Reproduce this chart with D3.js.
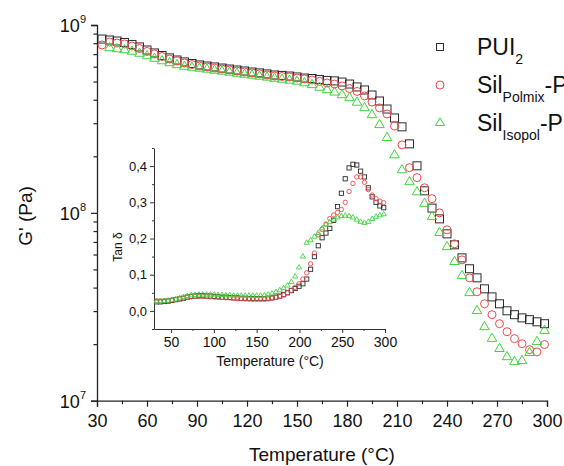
<!DOCTYPE html>
<html><head><meta charset="utf-8">
<script src="https://cdn.jsdelivr.net/npm/d3@7"></script>
<style>
body{margin:0;background:#fff;overflow:hidden}
svg{display:block;font-family:"Liberation Sans",Arial,Helvetica,sans-serif}
</style>
</head><body>
<svg id="chart" width="564" height="466"></svg>
<script>
// ---------- data ----------
const temperature = [33,37.5,42,46.5,51,55.5,60,64.5,69,73.5,78,82.5,87,91.5,96,100.5,105,109.5,114,118.5,
  123,127.5,132,136.5,141,145.5,150,154.5,159,163.5,168,172.5,177,181.5,186,190.5,195,199.5,204,208.5,
  213,217.5,222,226.5,231,235.5,240,244.5,249,253.5,258,262.5,267,271.5,276,280.5,285,289.5,294,298.5];

const gPUI2 = [8.42e8,8.32e8,8.22e8,8.07e8,7.88e8,7.64e8,7.36e8,7.10e8,6.88e8,6.68e8,6.51e8,6.36e8,6.24e8,6.13e8,6.05e8,
  5.98e8,5.90e8,5.83e8,5.76e8,5.69e8,5.62e8,5.56e8,5.49e8,5.42e8,5.39e8,5.35e8,5.29e8,5.22e8,5.19e8,5.13e8,
  5.07e8,5.04e8,4.97e8,4.85e8,4.68e8,4.51e8,4.24e8,3.94e8,3.57e8,3.20e8,2.87e8,2.33e8,1.78e8,1.31e8,1.06e8,
  9.29e7,7.73e7,6.76e7,5.76e7,5.04e7,4.51e7,3.94e7,3.57e7,3.28e7,3.01e7,2.87e7,2.76e7,2.70e7,2.63e7,2.57e7];

const gPolmix = [7.83e8,8.12e8,8.02e8,7.93e8,7.73e8,7.50e8,7.23e8,7.01e8,6.80e8,6.59e8,6.43e8,6.28e8,6.16e8,6.05e8,5.98e8,
  5.90e8,5.83e8,5.76e8,5.69e8,5.62e8,5.56e8,5.49e8,5.42e8,5.35e8,5.32e8,5.29e8,5.22e8,5.16e8,5.10e8,5.01e8,
  4.91e8,4.85e8,4.74e8,4.59e8,4.43e8,4.19e8,3.89e8,3.62e8,3.36e8,2.90e8,2.30e8,1.74e8,1.54e8,1.36e8,1.19e8,
  1.00e8,8.12e7,6.84e7,5.62e7,4.51e7,3.80e7,3.28e7,2.87e7,2.57e7,2.33e7,2.14e7,2.01e7,1.87e7,1.82e7,1.99e7];

const gIsopol = [null,7.55e8,7.45e8,7.36e8,7.23e8,7.05e8,6.84e8,6.63e8,6.43e8,6.28e8,6.13e8,6.01e8,5.94e8,5.87e8,5.80e8,
  5.73e8,5.66e8,5.59e8,5.52e8,5.45e8,5.39e8,5.32e8,5.26e8,5.19e8,5.13e8,5.07e8,5.01e8,4.91e8,4.80e8,4.65e8,
  4.51e8,4.38e8,4.24e8,4.09e8,3.87e8,3.62e8,3.32e8,2.94e8,2.51e8,2.03e8,1.69e8,1.46e8,1.29e8,1.12e8,9.52e7,
  7.83e7,6.59e7,5.49e7,4.62e7,3.75e7,3.01e7,2.47e7,2.14e7,1.89e7,1.71e7,1.61e7,1.63e7,1.80e7,2.06e7,2.36e7];

const tanPUI2 = [0.025,0.025,0.026,0.027,0.029,0.031,0.033,0.035,0.038,0.040,0.041,0.042,0.042,0.041,0.041,
  0.040,0.039,0.038,0.038,0.037,0.036,0.036,0.035,0.035,0.034,0.034,0.034,0.034,0.034,0.035,
  0.036,0.038,0.041,0.045,0.050,0.056,0.062,0.068,0.075,0.088,0.115,0.150,0.180,0.202,0.215,
  0.228,0.250,0.288,0.325,0.365,0.395,0.405,0.403,0.386,0.370,0.340,0.315,0.300,0.290,0.285];

const tanPolmix = [0.028,0.028,0.028,0.029,0.030,0.032,0.034,0.036,0.038,0.039,0.040,0.040,0.040,0.040,0.039,
  0.038,0.038,0.037,0.036,0.036,0.035,0.034,0.034,0.033,0.033,0.032,0.032,0.032,0.032,0.033,
  0.035,0.037,0.040,0.044,0.050,0.057,0.065,0.075,0.088,0.105,0.130,0.160,0.210,0.225,0.240,
  0.255,0.265,0.272,0.280,0.300,0.330,0.352,0.370,0.370,0.355,0.335,0.320,0.310,0.303,0.299];

const tanIsopol = [0.026,0.026,0.027,0.028,0.030,0.032,0.035,0.038,0.041,0.043,0.044,0.045,0.045,0.045,0.045,
  0.045,0.044,0.044,0.043,0.043,0.042,0.042,0.042,0.042,0.042,0.042,0.042,0.042,0.043,0.045,
  0.048,0.052,0.057,0.063,0.070,0.080,0.095,0.120,0.150,0.188,0.195,0.205,0.215,0.228,0.238,
  0.245,0.252,0.258,0.262,0.263,0.262,0.258,0.252,0.246,0.243,0.246,0.254,0.260,0.264,0.267];

const xTicksMain = [30,60,90,120,150,180,210,240,270,300];
const xMinorMain = [45,75,105,135,165,195,225,255,285];
const yTicksMain = [1e7,1e8,1e9];
const yExponents = [7,8,9];
const xTicksInset = [50,100,150,200,250,300];
const xMinorInset = [75,125,175,225,275];
const yTicksInset = [0,0.1,0.2,0.3,0.4];
const yTickLabelsInset = ["0,0","0,1","0,2","0,3","0,4"];
const yMinorInset = [-0.05,0.05,0.15,0.25,0.35,0.45];

const legendMain = ["PUI","Sil","Sil"];
const legendSub = ["2","Polmix","Isopol"];
const legendTail = ["","-PUI","-PUI"];
const legendTailSub = ["","2","2"];

// ---------- drawing ----------
const svg = d3.select("#chart");
const colors = ["#2b2b2b","#f04848","#3fd43f"];
const shapes = ["square","circle","triangle"];

const x = d3.scaleLinear().domain([30,300]).range([97,547]);
const y = d3.scaleLog().domain([1e7,1e9]).range([400.7,25]);

function marker(g, shape, cx, cy, s, color, sw){
  if(shape==="square"){
    g.append("rect").attr("x",cx-s/2).attr("y",cy-s/2).attr("width",s).attr("height",s)
      .attr("fill","none").attr("stroke",color).attr("stroke-width",sw);
  } else if(shape==="circle"){
    g.append("circle").attr("cx",cx).attr("cy",cy).attr("r",s/2)
      .attr("fill","none").attr("stroke",color).attr("stroke-width",sw);
  } else {
    const h = s*Math.sqrt(3)/2;
    g.append("path").attr("d",`M${cx},${cy-h*2/3}L${cx+s/2},${cy+h/3}L${cx-s/2},${cy+h/3}Z`)
      .attr("fill","none").attr("stroke",color).attr("stroke-width",sw);
  }
}

// main axes
const axX = svg.append("g").attr("transform","translate(0,400.7)")
  .call(d3.axisBottom(x).tickValues(xTicksMain).tickSize(6).tickPadding(8).tickFormat(d3.format("d")));
svg.append("g").attr("transform","translate(0,400.7)")
  .call(d3.axisBottom(x).tickValues(xMinorMain).tickSize(3.5).tickFormat(""))
  .select(".domain").remove();
axX.selectAll("text").attr("font-size",18).attr("fill","#111").attr("font-family","Liberation Sans, Arial, sans-serif");

const yMinor = [];
[1e7,1e8].forEach(b=>{for(let k=2;k<=9;k++) yMinor.push(b*k);});
const axY = svg.append("g").attr("transform","translate(97,0)")
  .call(d3.axisLeft(y).tickValues(yTicksMain).tickSize(6).tickFormat(""));
svg.append("g").attr("transform","translate(97,0)")
  .call(d3.axisLeft(y).tickValues(yMinor).tickSize(3.5).tickFormat(""))
  .select(".domain").remove();
yTicksMain.forEach((v,i)=>{
  const t = svg.append("text").attr("x",86).attr("y",y(v)+7).attr("text-anchor","end")
    .attr("font-size",18).attr("fill","#111");
  t.append("tspan").text("10");
  t.append("tspan").attr("font-size",11).attr("dy",-9).text(yExponents[i]);
});
svg.selectAll(".domain").attr("stroke","#222").attr("stroke-width",1.3);
svg.selectAll(".tick line").attr("stroke","#222").attr("stroke-width",1.2);

svg.append("text").attr("x",322).attr("y",461).attr("text-anchor","middle")
  .attr("font-size",19).attr("fill","#111").text("Temperature (°C)");
svg.append("text").attr("transform","translate(32,216) rotate(-90)").attr("text-anchor","middle")
  .attr("font-size",19).attr("fill","#111").text("G' (Pa)");

// inset axes
const xi = d3.scaleLinear().domain([30,300]).range([154,385]);
const yi = d3.scaleLinear().domain([-0.05,0.45]).range([329,148]);
const inset = svg.append("g");
const iax = inset.append("g").attr("transform","translate(0,329)")
  .call(d3.axisBottom(xi).tickValues(xTicksInset).tickSize(4).tickPadding(4).tickSizeOuter(0));
inset.append("g").attr("transform","translate(0,329)")
  .call(d3.axisBottom(xi).tickValues(xMinorInset).tickSize(2).tickFormat(""))
  .select(".domain").remove();
iax.selectAll("text").attr("font-size",14).attr("fill","#111").attr("font-family","Liberation Sans, Arial, sans-serif");
const iay = inset.append("g").attr("transform","translate(154,0)")
  .call(d3.axisLeft(yi).tickValues(yTicksInset).tickSize(4).tickPadding(3).tickSizeOuter(0)
    .tickFormat((d,i)=>yTickLabelsInset[i]));
inset.append("g").attr("transform","translate(154,0)")
  .call(d3.axisLeft(yi).tickValues(yMinorInset).tickSize(2).tickFormat(""))
  .select(".domain").remove();
iay.selectAll("text").attr("font-size",13).attr("fill","#111").attr("font-family","Liberation Sans, Arial, sans-serif");
inset.selectAll(".domain").attr("stroke","#333").attr("stroke-width",1);
inset.selectAll(".tick line").attr("stroke","#333").attr("stroke-width",1);
inset.append("text").attr("x",270).attr("y",366).attr("text-anchor","middle")
  .attr("font-size",14).attr("fill","#111").text("Temperature (°C)");
inset.append("text").attr("transform","translate(122,247) rotate(-90)").attr("text-anchor","middle")
  .attr("font-size",12).attr("fill","#111").text("Tan δ");

// inset data
[tanPUI2,tanPolmix,tanIsopol].forEach((arr,si)=>{
  const g = inset.append("g");
  const sz = [4.2,4.4,5.2][si];
  arr.forEach((v,i)=>{ if(v!=null) marker(g, shapes[si], xi(temperature[i]), yi(v), sz, colors[si], 0.9); });
});

// main data
[gPUI2,gPolmix,gIsopol].forEach((arr,si)=>{
  const g = svg.append("g");
  const sz = [8,8,9.5][si];
  arr.forEach((v,i)=>{ if(v!=null) marker(g, shapes[si], x(temperature[i]), y(v), sz, colors[si], 1); });
});

// legend
const legY = [47,85,123];
legendMain.forEach((name,i)=>{
  const g = svg.append("g");
  marker(g, shapes[i], 440, legY[i], [7,8,9][i], colors[i], 1);
  const t = g.append("text").attr("x",477).attr("y",legY[i]+8).attr("font-size",23).attr("fill","#111");
  t.append("tspan").text(name);
  t.append("tspan").attr("font-size",14).attr("dy",9).text(legendSub[i]);
  if(legendTail[i]){
    t.append("tspan").attr("dy",-9).text(legendTail[i]);
    t.append("tspan").attr("font-size",14).attr("dy",9).text(legendTailSub[i]);
  }
});
</script>
</body></html>
